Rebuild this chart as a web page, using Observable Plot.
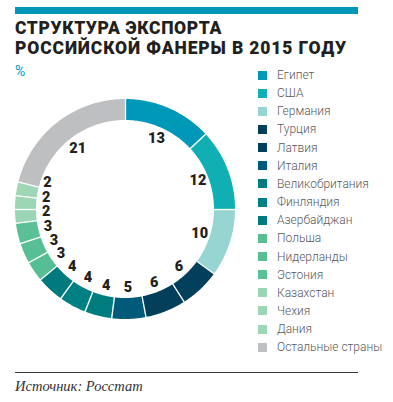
<!DOCTYPE html>
<html><head><meta charset="utf-8">
<script src="https://cdn.jsdelivr.net/npm/d3@7"></script>
<script src="https://cdn.jsdelivr.net/npm/@observablehq/plot@0.6"></script>
<style>
html,body{margin:0;padding:0;background:#fff;}
#root{position:relative;width:393px;height:402px;overflow:hidden;font-family:Roboto,"Noto Sans",sans-serif;}
.bar{position:absolute;left:15px;top:7px;width:343px;height:7px;background:#0098b9;}
.title{position:absolute;left:15px;top:18px;font-size:17.5px;line-height:20px;font-weight:900;color:#231f20;white-space:nowrap;}
.title span{display:inline-block;}
.unit{position:absolute;left:15px;top:63px;font-size:14px;color:#0098b9;}
.chart{position:absolute;left:0;top:84px;}
.leg{position:absolute;left:258px;font-size:12px;font-weight:300;color:#58595b;white-space:nowrap;height:14px;line-height:14px;}
.leg span.sw{display:inline-block;width:9px;height:9px;margin-right:10px;vertical-align:-0.5px;}
.rule{position:absolute;left:15px;top:372px;width:343px;height:1px;background:#3a3a3a;}
.src{position:absolute;left:15px;top:378px;font-family:"Liberation Serif","DejaVu Serif",serif;font-style:italic;font-size:14.5px;color:#333;}
</style></head>
<body><div id="root">
<div class="bar"></div>
<div class="title"><span id="t1">СТРУКТУРА ЭКСПОРТА</span><br><span id="t2">РОССИЙСКОЙ ФАНЕРЫ В 2015 ГОДУ</span></div>
<div class="unit">%</div>
<div class="chart" id="chart"></div>
<div id="legend"></div>
<div class="rule"></div>
<div class="src">Источник: Росстат</div>
</div>
<script>
const countries = ["Египет","США","Германия","Турция","Латвия","Италия","Великобритания","Финляндия","Азербайджан","Польша","Нидерланды","Эстония","Казахстан","Чехия","Дания","Остальные страны"];
const shares = [13,12,10,6,6,5,4,4,4,3,3,3,2,2,2,21];
const colors = ["#0098b9","#10afb3","#97d5d3","#023f5b","#033f5a","#005b7b","#007b7e","#008082","#007a7c","#55be92","#58bf94","#5bc096","#9ad6b6","#9cd6b5","#9dd7b6","#bdbfc1"];

// fit title lines to the reference's line widths
[["t1", 207], ["t2", 332]].forEach(([id, target]) => {
  const el = document.getElementById(id);
  const w = el.getBoundingClientRect().width;
  const n = el.textContent.length;
  el.style.letterSpacing = ((target - w) / n) + "px";
});

const R_OUT = 110, R_IN = 89, R_LAB = 78;
const arcs = d3.pie().sort(null).value(d => d)(shares);

const ring = [];
arcs.forEach((a, i) => {
  const n = Math.max(4, Math.ceil((a.endAngle - a.startAngle) / 0.01));
  for (let k = 0; k <= n; k++) {
    const t = a.startAngle + (a.endAngle - a.startAngle) * k / n;
    ring.push({country: countries[i], x1: R_IN * Math.sin(t), y1: R_IN * Math.cos(t), x2: R_OUT * Math.sin(t), y2: R_OUT * Math.cos(t)});
  }
});
const seps = arcs.map(a => ({x1: (R_IN - 1) * Math.sin(a.startAngle), y1: (R_IN - 1) * Math.cos(a.startAngle), x2: (R_OUT + 1) * Math.sin(a.startAngle), y2: (R_OUT + 1) * Math.cos(a.startAngle)}));

const labels = arcs.map((a, i) => {
  const m = (a.startAngle + a.endAngle) / 2;
  return {text: String(shares[i]), m, x: R_LAB * Math.sin(m), y: R_LAB * Math.cos(m)};
});
const left = labels.filter(d => d.m > Math.PI && d.m < 2 * Math.PI * 0.85).sort((a, b) => a.m - b.m);
for (let k = 1; k < left.length; k++) {
  if (left[k].y < left[k - 1].y + 14.5 && left[k].m > 1.4 * Math.PI) {
    left[k].y = left[k - 1].y + 14.5;
    left[k].x = left[k].x - 1.5;
  }
}

const chart = Plot.plot({
  width: 250, height: 250, margin: 0,
  x: {domain: [-125, 125], axis: null},
  y: {domain: [-125, 125], axis: null},
  color: {domain: countries, range: colors},
  marks: [
    Plot.area(ring, {x1: "x1", y1: "y1", x2: "x2", y2: "y2", z: "country", fill: "country"}),
    Plot.link(seps, {x1: "x1", y1: "y1", x2: "x2", y2: "y2", stroke: "white", strokeWidth: 1.3}),
    Plot.text(labels, {x: "x", y: "y", text: "text", fontSize: 14.5, fontWeight: 900, fill: "#231f20", fontFamily: "Roboto"})
  ]
});
document.getElementById("chart").appendChild(chart);

const leg = document.getElementById("legend");
countries.forEach((c, i) => {
  const d = document.createElement("div");
  d.className = "leg";
  d.style.top = (68 + i * 18.15) + "px";
  d.innerHTML = `<span class="sw" style="background:${colors[i]}"></span>${c}`;
  leg.appendChild(d);
});
</script>
</body></html>
